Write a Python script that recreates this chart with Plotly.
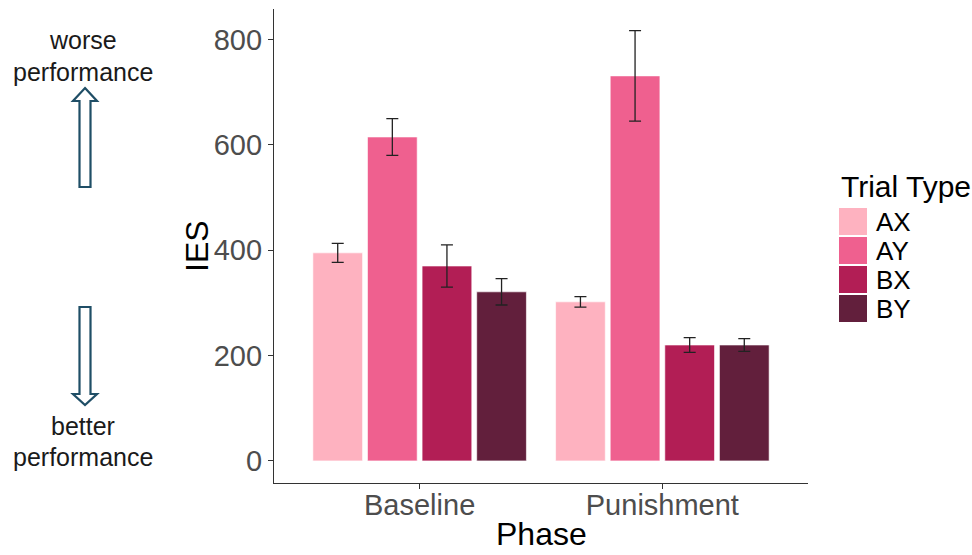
import plotly.graph_objects as go

# ---- data ----
phases = ["Baseline", "Punishment"]
trial_types = ["AX", "AY", "BX", "BY"]
ies_AX = [395, 302]
ies_AY = [615, 731]
ies_BX = [370, 220]
ies_BY = [321, 220]
se_AX = [18, 10]
se_AY = [35, 86]
se_BX = [40, 14]
se_BY = [25, 12]
y_ticks = [0, 200, 400, 600, 800]

colors = ["#FEB2C0", "#EF608F", "#B21E55", "#621F3C"]
values = [ies_AX, ies_AY, ies_BX, ies_BY]
errors = [se_AX, se_AY, se_BX, se_BY]

W, H = 972, 555
L, R, T, B = 274, 164, 9, 72
PW, PH = W - L - R, H - T - B
FONT = "Liberation Sans, Arial, sans-serif"


def px(x):
    return (x - L) / PW


def py(y):
    return (H - B - y) / PH


fig = go.Figure()
for name, col, vals, errs in zip(trial_types, colors, values, errors):
    fig.add_trace(go.Bar(
        x=phases, y=vals, name=name,
        marker=dict(color=col, line=dict(color="white", width=0.6)),
        error_y=dict(type="data", array=errs, visible=True,
                     color="#222222", thickness=1.3, width=6),
        showlegend=False,
    ))

shapes = []
annotations = []

# manual legend
annotations.append(dict(x=px(839), y=py(186), xref="paper", yref="paper",
                        text="Trial Type", showarrow=False, xanchor="left",
                        yanchor="middle", font=dict(size=30, color="black", family=FONT)))
for i, (name, col) in enumerate(zip(trial_types, colors)):
    top = 208 + i * 29
    shapes.append(dict(type="rect", xref="paper", yref="paper",
                       x0=px(839), x1=px(867), y0=py(top), y1=py(top + 27),
                       fillcolor=col, line=dict(width=0)))
    annotations.append(dict(x=px(874), y=py(top + 14), xref="paper", yref="paper",
                            text=name, showarrow=False, xanchor="left",
                            yanchor="middle", font=dict(size=26, color="black", family=FONT)))

# axis titles
annotations.append(dict(x=px(541), y=py(554), xref="paper", yref="paper",
                        text="Phase", showarrow=False, xanchor="center", yanchor="bottom",
                        font=dict(size=32, color="black", family=FONT)))
annotations.append(dict(x=px(197), y=py(246), xref="paper", yref="paper",
                        text="IES", showarrow=False, xanchor="center", yanchor="middle",
                        textangle=-90, font=dict(size=32, color="black", family=FONT)))

# side notes
for txt, yy in [("worse", 40), ("performance", 72), ("better", 426), ("performance", 457)]:
    annotations.append(dict(x=px(83), y=py(yy), xref="paper", yref="paper",
                            text=txt, showarrow=False, xanchor="center", yanchor="middle",
                            font=dict(size=25, color="#1a1a1a", family=FONT)))


def path_from(points):
    s = "M " + " L ".join(f"{px(x):.5f},{py(y):.5f}" for x, y in points) + " Z"
    return s


up = [(85, 88), (97, 101), (90.5, 101), (90.5, 187), (79.5, 187), (79.5, 101), (73, 101)]
down = [(79.5, 307), (90.5, 307), (90.5, 394), (97, 394), (85, 405), (73, 394), (79.5, 394)]
for pts in (up, down):
    shapes.append(dict(type="path", xref="paper", yref="paper", path=path_from(pts),
                       line=dict(color="#1F4E66", width=2.2), fillcolor="white"))

fig.update_layout(
    width=W, height=H,
    margin=dict(l=L, r=R, t=T, b=B, pad=0),
    paper_bgcolor="white", plot_bgcolor="white",
    barmode="group", bargap=0.1, bargroupgap=0.09,
    showlegend=False,
    shapes=shapes, annotations=annotations,
    font=dict(family=FONT),
    xaxis=dict(range=[-0.6, 1.6], showline=True, linecolor="#333333", linewidth=1.2,
               ticks="outside", ticklen=5, tickcolor="#333333", tickwidth=1.1,
               ticklabelstandoff=-9,
               tickfont=dict(size=29, color="#4D4D4D", family=FONT),
               showgrid=False, zeroline=False),
    yaxis=dict(range=[-42, 858], tickvals=y_ticks, showline=True, linecolor="#333333",
               linewidth=1.2, ticks="outside", ticklen=5, tickcolor="#333333", tickwidth=1.1,
               tickfont=dict(size=29, color="#4D4D4D", family=FONT),
               showgrid=False, zeroline=False),
)

fig.write_html("out.html", config={"displayModeBar": False},
               post_script="document.body.style.margin='0';document.body.style.overflow='hidden';")
